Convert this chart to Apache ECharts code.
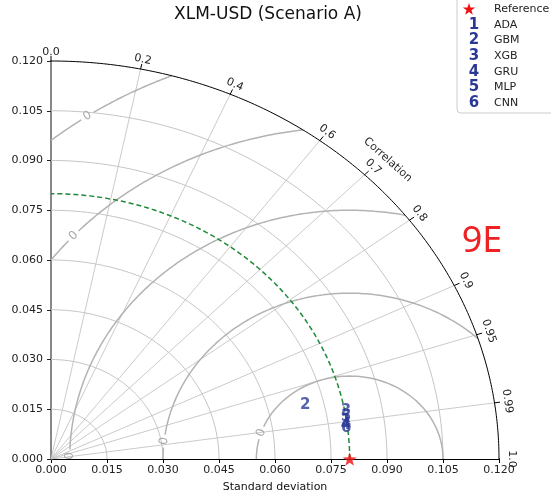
<!DOCTYPE html>
<html><head><meta charset="utf-8">
<script src="https://cdn.jsdelivr.net/npm/echarts@6/dist/echarts.min.js"></script>
<style>html,body{margin:0;padding:0;background:#fff}#c{width:551px;height:499px}</style>
</head><body><div id="c"></div>
<script>
// ---------------- data ----------------
const chartTitle = 'XLM-USD (Scenario A)';
const panelTag = '9E';
const xAxisName = 'Standard deviation';
const corrAxisName = 'Correlation';
const refName = 'Reference';
const refStd = 0.08;
const modelNames = ['ADA', 'GBM', 'XGB', 'GRU', 'MLP', 'CNN'];
const modelStd  = [0.0799, 0.0700, 0.0803, 0.0797, 0.0800, 0.0796];
const modelCorr = [0.9896, 0.9725, 0.9836, 0.9917, 0.9874, 0.9931];
const stdMax = 0.12;
const stdTickStep = 0.015;
const stdArcs = [0.015, 0.03, 0.045, 0.06, 0.075, 0.09, 0.105];
const corrLines = [0.2, 0.4, 0.6, 0.7, 0.8, 0.9, 0.95, 0.99];
const corrTicks = [0.0, 0.2, 0.4, 0.6, 0.7, 0.8, 0.9, 0.95, 0.99, 1.0];
const corrTickLabels = ['0.0', '0.2', '0.4', '0.6', '0.7', '0.8', '0.9', '0.95', '0.99', '1.0'];
const rmsLevels = [0.025, 0.05, 0.075, 0.1, 0.125];
const rmsLabels = ['0', '0', '0', '0', '0'];

// ---------------- layout / style ----------------
const G = { left: 51, top: 61, width: 448, height: 398 };
const rmsLabelDeg = [161.6, 173.8, 179.3, 137.7, 124.2];
const scaleAvg = (G.width + G.height) / 2 / stdMax;
const gapPx = 7;
const markerColor = '#2a3996';
const FONT = 'DejaVu Sans';
const D = Math.PI / 180;

function arcPts(cx, R, a0, a1, n) {
  const pts = [];
  for (let i = 0; i <= n; i++) {
    const a = (a0 + (a1 - a0) * i / n) * D;
    pts.push([cx + R * Math.cos(a), R * Math.sin(a)]);
  }
  return pts;
}
function lineSeries(data, color, width, extra) {
  return Object.assign({
    type: 'line', data: data, showSymbol: false, symbol: 'none', silent: true,
    animation: false, lineStyle: { color: color, width: width }, z: 2
  }, extra || {});
}

const series = [];
// std arcs
stdArcs.forEach(r => series.push(lineSeries(arcPts(0, r, 0, 90, 120), '#c4c4c4', 1)));
// correlation radial lines
corrLines.forEach(c => {
  const a = Math.acos(c);
  series.push(lineSeries([[0, 0], [stdMax * Math.cos(a), stdMax * Math.sin(a)]], '#c4c4c4', 0.9));
});
// RMSD contours
rmsLevels.forEach((R, i) => {
  const c = refStd, M = stdMax;
  let a0 = 0, a1 = 180;
  if (c + R > M) {
    const x = (M * M - R * R + c * c) / (2 * c);
    const y = Math.sqrt(M * M - x * x);
    a0 = Math.atan2(y, x - c) / D;
  }
  if (R > c) {
    const y = Math.sqrt(R * R - c * c);
    a1 = Math.atan2(y, -c) / D;
  }
  const hg = gapPx / (R * scaleAvg) / D;
  const L = rmsLabelDeg[i];
  if (L - hg > a0) series.push(lineSeries(arcPts(c, R, a0, L - hg, 150), '#b3b3b3', 1.5));
  if (L + hg < a1) series.push(lineSeries(arcPts(c, R, L + hg, a1, 40), '#b3b3b3', 1.5));
});
// outer arc
series.push(lineSeries(arcPts(0, stdMax, 0, 90, 200), '#000', 1, { z: 4, clip: false }));
// correlation tick marks
corrTicks.forEach(c => {
  const a = Math.acos(c);
  series.push(lineSeries([[stdMax * Math.cos(a), stdMax * Math.sin(a)],
    [stdMax * 1.013 * Math.cos(a), stdMax * 1.013 * Math.sin(a)]], '#000', 1, { z: 4, clip: false }));
});
// reference std arc
series.push(lineSeries(arcPts(0, refStd, 0, 90, 150), '#1f8b3a', 1.5,
  { lineStyle: { color: '#1f8b3a', width: 1.5, type: [5, 3] }, z: 5 }));

const starPath = (function () {
  let s = 'path://';
  for (let k = 0; k < 10; k++) {
    const r = k % 2 ? 0.4 : 1;
    const a = (-90 + k * 36) * D;
    s += (k ? 'L' : 'M') + (r * Math.cos(a)).toFixed(4) + ' ' + (r * Math.sin(a)).toFixed(4) + ' ';
  }
  return s + 'Z';
})();

// reference point
series.push({
  type: 'scatter', data: [[refStd, 0]], symbol: starPath, symbolKeepAspect: true, symbolSize: 14,
  itemStyle: { color: '#ee1111' }, z: 10, clip: false, animation: false, silent: true
});
// models
series.push({
  type: 'scatter', z: 9, clip: false, animation: false, silent: true,
  data: modelNames.map((n, i) => {
    const a = Math.acos(modelCorr[i]);
    return { name: n, value: [modelStd[i] * Math.cos(a), modelStd[i] * Math.sin(a)] };
  }),
  symbolSize: 2, itemStyle: { color: 'rgba(0,0,0,0)' },
  label: {
    show: true, position: 'inside', formatter: p => String(p.dataIndex + 1),
    color: markerColor, fontSize: 15, fontWeight: 'bold', fontFamily: FONT
  },
  labelLayout: { hideOverlap: false }
});

const fmt = v => (Math.round(v * 1000) / 1000).toFixed(3);
const chart = echarts.init(document.getElementById('c'), null, { renderer: 'canvas' });
chart.setOption({
  animation: false,
  backgroundColor: '#fff',
  title: {
    text: chartTitle, left: 263, top: 1, textAlign: 'center',
    textStyle: { fontFamily: FONT, fontSize: 17, fontWeight: 'normal', color: '#111' }
  },
  grid: { left: G.left, top: G.top, width: G.width, height: G.height, containLabel: false },
  xAxis: {
    type: 'value', min: 0, max: stdMax, interval: stdTickStep,
    name: xAxisName, nameLocation: 'middle', nameGap: 23,
    nameTextStyle: { fontFamily: FONT, fontSize: 11, color: '#111' },
    axisLine: { show: true, lineStyle: { color: '#000', width: 1 } },
    axisTick: { show: true, length: 4, lineStyle: { color: '#000' } },
    axisLabel: { formatter: fmt, fontFamily: FONT, fontSize: 11, color: '#222', margin: 6 },
    splitLine: { show: false }
  },
  yAxis: {
    type: 'value', min: 0, max: stdMax, interval: stdTickStep,
    axisLine: { show: true, lineStyle: { color: '#888', width: 2 } },
    axisTick: { show: true, length: 4, lineStyle: { color: '#222' } },
    axisLabel: { formatter: fmt, fontFamily: FONT, fontSize: 11, color: '#222', margin: 8 },
    splitLine: { show: false }
  },
  series: series
});

// ---------------- text decorations positioned through the axes ----------------
const px = v => chart.convertToPixel({ gridIndex: 0 }, v);
const O = px([0, 0]);
const P1 = px([stdMax, stdMax]);
const sx = (P1[0] - O[0]) / stdMax, sy = (O[1] - P1[1]) / stdMax;
function tangentRot(dxData, dyData) {
  let a = Math.atan2(dyData * sy, dxData * sx) / D;
  while (a > 90) a -= 180;
  while (a <= -90) a += 180;
  return a * D;
}
const graphics = [];
corrTicks.forEach((c, i) => {
  const a = Math.acos(c);
  const P = px([stdMax * Math.cos(a), stdMax * Math.sin(a)]);
  let dx = P[0] - O[0], dy = P[1] - O[1];
  const len = Math.hypot(dx, dy); dx /= len; dy /= len;
  const off = 9 + 4 * c;
  graphics.push({
    type: 'text', x: P[0] + dx * off, y: P[1] + dy * off,
    rotation: -(90 - a / D) * D, silent: true,
    style: { text: corrTickLabels[i], fontFamily: FONT, fontSize: 11, fill: '#222', align: 'center', verticalAlign: 'middle' }
  });
});
{
  const a = 45 * D, r = stdMax * 1.063;
  const P = px([r * Math.cos(a), r * Math.sin(a)]);
  graphics.push({
    type: 'text', x: P[0], y: P[1], rotation: tangentRot(-Math.sin(a), Math.cos(a)), silent: true,
    style: { text: corrAxisName, fontFamily: FONT, fontSize: 11, fill: '#222', align: 'center', verticalAlign: 'middle' }
  });
}
rmsLevels.forEach((R, i) => {
  const a = rmsLabelDeg[i] * D;
  const P = px([refStd + R * Math.cos(a), R * Math.sin(a)]);
  graphics.push({
    type: 'text', x: P[0], y: P[1], rotation: tangentRot(-Math.sin(a), Math.cos(a)), silent: true, z: 6,
    style: { text: rmsLabels[i], fontFamily: FONT, fontSize: 12, fill: '#aaaaaa', align: 'center', verticalAlign: 'middle' }
  });
});
// panel tag
graphics.push({
  type: 'text', x: 482, y: 242, silent: true,
  style: { text: panelTag, fontFamily: 'Noto Sans', fontSize: 36, fill: '#ee2222', align: 'center', verticalAlign: 'middle' }
});
// legend
const legendChildren = [
  { type: 'rect', shape: { x: 457, y: -6, width: 110, height: 119, r: 4 },
    style: { fill: '#fff', stroke: '#cccccc', lineWidth: 1 } }
];
const starPts = [];
for (let k = 0; k < 10; k++) {
  const r = k % 2 ? 2.6 : 6.5, a = (-90 + k * 36) * D;
  starPts.push([469 + r * Math.cos(a), 9.5 + r * Math.sin(a)]);
}
legendChildren.push({ type: 'polygon', shape: { points: starPts }, style: { fill: '#ee1111' } });
legendChildren.push({ type: 'text', x: 494, y: 9.5,
  style: { text: refName, fontFamily: FONT, fontSize: 11, fill: '#222', align: 'left', verticalAlign: 'middle' } });
modelNames.forEach((n, i) => {
  const y = 25 + i * 15.6;
  legendChildren.push({ type: 'text', x: 474, y: y,
    style: { text: String(i + 1), fontFamily: FONT, fontSize: 15, fontWeight: 'bold', fill: markerColor, align: 'center', verticalAlign: 'middle' } });
  legendChildren.push({ type: 'text', x: 494, y: y,
    style: { text: n, fontFamily: FONT, fontSize: 11, fill: '#222', align: 'left', verticalAlign: 'middle' } });
});
graphics.push({ type: 'group', z: 20, silent: true, children: legendChildren });
chart.setOption({ graphic: graphics });
</script>
</body></html>
